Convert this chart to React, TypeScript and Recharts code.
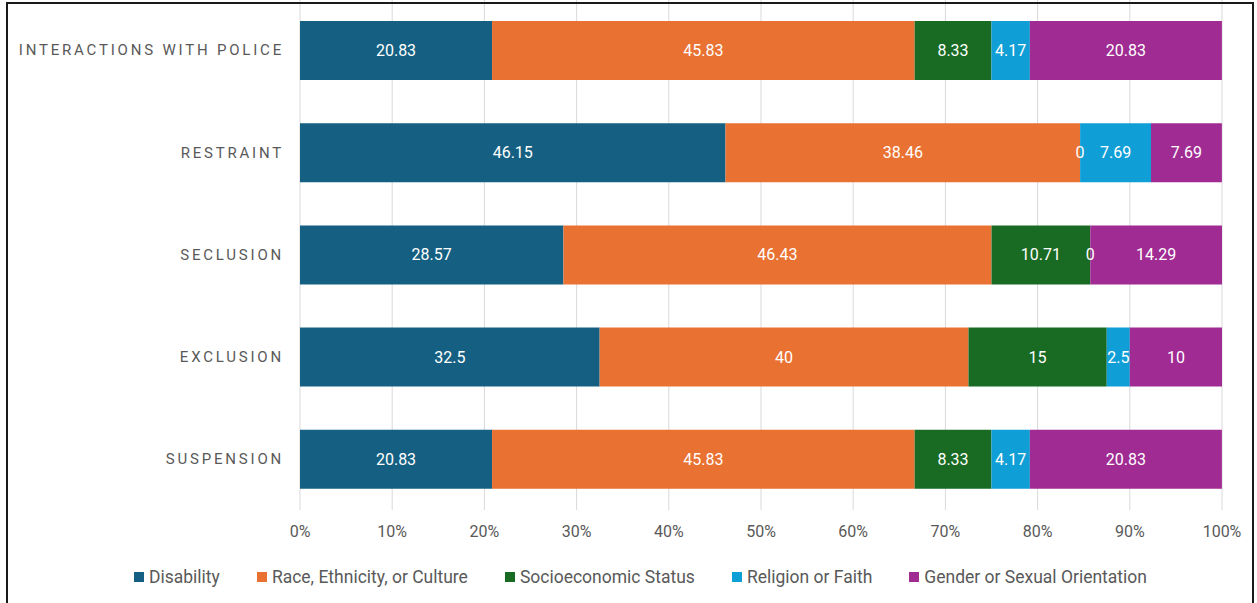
import { BarChart, Bar, XAxis, YAxis, CartesianGrid, Legend, LabelList } from 'recharts'

const categories = ['INTERACTIONS WITH POLICE', 'RESTRAINT', 'SECLUSION', 'EXCLUSION', 'SUSPENSION']
const disability = [20.83, 46.15, 28.57, 32.5, 20.83]
const race = [45.83, 38.46, 46.43, 40, 45.83]
const socioeconomic = [8.33, 0, 10.71, 15, 8.33]
const religion = [4.17, 7.69, 0, 2.5, 4.17]
const gender = [20.83, 7.69, 14.29, 10, 20.83]
const xTicks = [0, 10, 20, 30, 40, 50, 60, 70, 80, 90, 100]

const series = [
  { key: 'disability', name: 'Disability', color: '#156082' },
  { key: 'race', name: 'Race, Ethnicity, or Culture', color: '#E97132' },
  { key: 'socioeconomic', name: 'Socioeconomic Status', color: '#196B24' },
  { key: 'religion', name: 'Religion or Faith', color: '#0F9ED5' },
  { key: 'gender', name: 'Gender or Sexual Orientation', color: '#A02B93' },
]

const data = categories.map((name, i) => ({
  name,
  disability: disability[i],
  race: race[i],
  socioeconomic: socioeconomic[i],
  religion: religion[i],
  gender: gender[i],
}))

const FONT = 'Roboto, "Noto Sans", sans-serif'
const GREY = '#595959'

// zero-width segments get no label from recharts, so the next segment draws the "0" at its left edge
function makeLabel(seriesIndex: number) {
  return (props: any) => {
    const { x, y, width, height, value, index } = props
    if (value === 0 || value == null) return null
    const cy = Number(y) + Number(height) / 2
    const prev = seriesIndex > 0 ? (data[index] as any)[series[seriesIndex - 1].key] : null
    return (
      <g>
        <text
          x={Number(x) + Number(width) / 2}
          y={cy}
          fill="#fff"
          textAnchor="middle"
          dominantBaseline="central"
          style={{ fontFamily: FONT, fontSize: 16 }}
        >
          {value}
        </text>
        {prev === 0 && (
          <text
            x={Number(x)}
            y={cy}
            fill="#fff"
            textAnchor="middle"
            dominantBaseline="central"
            style={{ fontFamily: FONT, fontSize: 16 }}
          >
            0
          </text>
        )}
      </g>
    )
  }
}

function LegendContent() {
  return (
    <div
      style={{
        display: 'flex',
        justifyContent: 'center',
        height: 20,
        alignItems: 'center',
        paddingLeft: 24,
        fontFamily: FONT,
        fontSize: 17.5,
        color: GREY,
      }}
    >
      {series.map((s, i) => (
        <div
          key={s.key}
          style={{ display: 'flex', alignItems: 'center', marginRight: i < series.length - 1 ? 37 : 0 }}
        >
          <span style={{ width: 10, height: 10, background: s.color, marginRight: 5, display: 'inline-block' }} />
          {s.name}
        </div>
      ))}
    </div>
  )
}

export default function App() {
  return (
    <div style={{ position: 'relative', width: 1257, height: 603, overflow: 'hidden', background: '#fff' }}>
      <style>{'body{margin:0}'}</style>
      <div style={{ position: 'absolute', left: 0, top: -1 }}>
        <BarChart
          width={1257}
          height={604}
          data={data}
          layout="vertical"
          margin={{ top: 0, right: 35, bottom: 16, left: 0 }}
          barSize={59}
        >
          <CartesianGrid horizontal={false} stroke="#d9d9d9" />
          <XAxis
            type="number"
            domain={[0, 100]}
            ticks={xTicks}
            allowDataOverflow
            tickFormatter={(v) => `${v}%`}
            axisLine={false}
            tickLine={false}
            tickMargin={10}
            height={57}
            tick={{ fill: GREY, fontSize: 16, fontFamily: FONT }}
          />
          <YAxis
            type="category"
            dataKey="name"
            width={300}
            axisLine={false}
            tickLine={false}
            tickMargin={10}
            tick={{ fill: GREY, fontSize: 15, fontFamily: FONT, letterSpacing: 2.8 }}
          />
          <Legend
            verticalAlign="bottom"
            content={<LegendContent />}
            wrapperStyle={{ left: 0, width: 1257 }}
          />
          {series.map((s, i) => (
            <Bar key={s.key} dataKey={s.key} name={s.name} stackId="a" fill={s.color} isAnimationActive={false}>
              <LabelList dataKey={s.key} content={makeLabel(i)} />
            </Bar>
          ))}
        </BarChart>
      </div>
      <div
        style={{
          position: 'absolute',
          left: 6,
          top: 2,
          width: 1244,
          height: 620,
          border: '2px solid #1a1a1a',
          pointerEvents: 'none',
        }}
      />
    </div>
  )
}
